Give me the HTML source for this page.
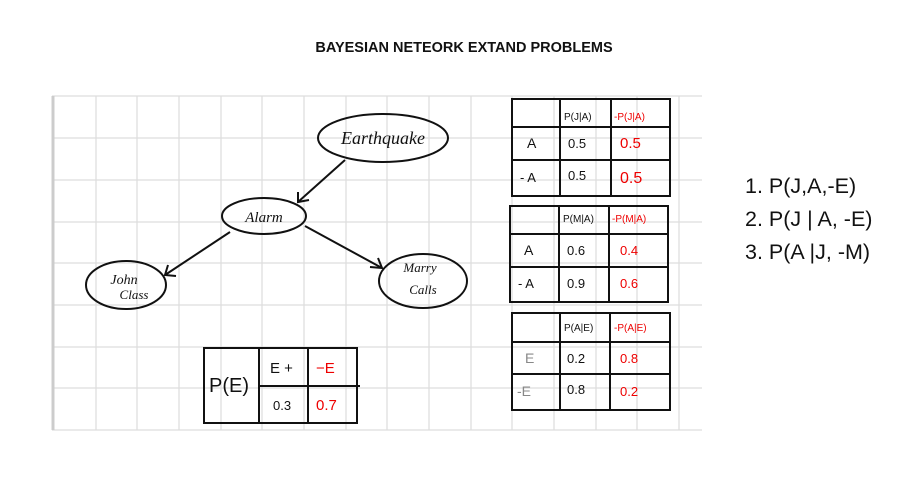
<!DOCTYPE html>
<html><head><style>
body{margin:0;background:#fff;width:924px;height:482px;overflow:hidden;position:relative;font-family:"Liberation Sans",sans-serif}
.t{position:absolute;left:0;width:928px;top:40px;text-align:center;font-weight:bold;font-size:14.5px;color:#111}
.l{position:absolute;left:745px;font-size:21.5px;color:#111}
</style></head><body>
<div class="t">BAYESIAN NETEORK EXTAND PROBLEMS</div>
<svg width="924" height="482" style="position:absolute;left:0;top:0" font-family="Liberation Sans, sans-serif">
<rect x="52" y="96" width="650" height="334" fill="#fff"/>
<g stroke="#ddd" stroke-width="1.2">
<line x1="96" y1="96" x2="96" y2="430"/><line x1="137" y1="96" x2="137" y2="430"/><line x1="179" y1="96" x2="179" y2="430"/><line x1="221" y1="96" x2="221" y2="430"/><line x1="262" y1="96" x2="262" y2="430"/><line x1="304" y1="96" x2="304" y2="430"/><line x1="346" y1="96" x2="346" y2="430"/><line x1="387" y1="96" x2="387" y2="430"/><line x1="429" y1="96" x2="429" y2="430"/><line x1="471" y1="96" x2="471" y2="430"/><line x1="512" y1="96" x2="512" y2="430"/><line x1="554" y1="96" x2="554" y2="430"/><line x1="596" y1="96" x2="596" y2="430"/><line x1="637" y1="96" x2="637" y2="430"/><line x1="679" y1="96" x2="679" y2="430"/>
<line x1="52" y1="138" x2="702" y2="138"/><line x1="52" y1="180" x2="702" y2="180"/><line x1="52" y1="222" x2="702" y2="222"/><line x1="52" y1="263" x2="702" y2="263"/><line x1="52" y1="305" x2="702" y2="305"/><line x1="52" y1="347" x2="702" y2="347"/><line x1="52" y1="388" x2="702" y2="388"/><line x1="52" y1="430" x2="702" y2="430"/>
<line x1="52" y1="96" x2="702" y2="96"/>
</g>
<line x1="53" y1="96" x2="53" y2="430" stroke="#ccc" stroke-width="3"/>
<g fill="none" stroke="#111" stroke-width="2">
<ellipse cx="383" cy="138" rx="65" ry="24"/>
<ellipse cx="264" cy="216" rx="42" ry="18"/>
<ellipse cx="126" cy="285" rx="40" ry="24"/>
<ellipse cx="423" cy="281" rx="44" ry="27"/>
<line x1="345" y1="160" x2="298" y2="202"/><polyline points="298,192 298,202 309,200"/>
<line x1="230" y1="232" x2="165" y2="275"/><polyline points="168,265 165,275 176,276"/>
<line x1="305" y1="226" x2="382" y2="268"/><polyline points="370,267 382,268 378,258"/>
</g>
<g font-family="Liberation Serif, serif" font-style="italic" fill="#111">
<text x="383" y="144" font-size="18" text-anchor="middle">Earthquake</text>
<text x="264" y="222" font-size="15" text-anchor="middle">Alarm</text>
<text x="124" y="284" font-size="14" text-anchor="middle">John</text>
<text x="134" y="299" font-size="13" text-anchor="middle">Class</text>
<text x="420" y="272" font-size="13" text-anchor="middle">Marry</text>
<text x="423" y="294" font-size="13" text-anchor="middle">Calls</text>
</g>
<g fill="none" stroke="#111" stroke-width="2">
<rect x="204" y="348" width="153" height="75"/>
<line x1="259" y1="348" x2="259" y2="423"/><line x1="308" y1="348" x2="308" y2="423"/><line x1="259" y1="386" x2="360" y2="386"/>
<rect x="512" y="99" width="158" height="97"/><line x1="560" y1="99" x2="560" y2="196"/><line x1="611" y1="99" x2="611" y2="196"/><line x1="512" y1="127" x2="670" y2="127"/><line x1="512" y1="160" x2="670" y2="160"/>
<rect x="510" y="206" width="158" height="96"/><line x1="559" y1="206" x2="559" y2="302"/><line x1="609" y1="206" x2="609" y2="302"/><line x1="510" y1="234" x2="668" y2="234"/><line x1="510" y1="267" x2="668" y2="267"/>
<rect x="512" y="313" width="158" height="97"/><line x1="560" y1="313" x2="560" y2="410"/><line x1="610" y1="313" x2="610" y2="410"/><line x1="512" y1="342" x2="670" y2="342"/><line x1="512" y1="374" x2="670" y2="374"/>
</g>
<g font-size="13" fill="#111">
<text x="209" y="392" font-size="20">P(E)</text>
<text x="270" y="373" font-size="15">E +</text><text x="316" y="373" font-size="15" fill="#e00">−E</text>
<text x="273" y="410">0.3</text><text x="316" y="410" font-size="15" fill="#e00">0.7</text>
<text x="564" y="120" font-size="10">P(J|A)</text><text x="614" y="120" font-size="10" fill="#e00">-P(J|A)</text>
<text x="527" y="148" font-size="14">A</text><text x="568" y="148">0.5</text><text x="620" y="148" font-size="15" fill="#e00">0.5</text>
<text x="520" y="182" font-size="13">- A</text><text x="568" y="180">0.5</text><text x="620" y="183" font-size="16" fill="#e00">0.5</text>
<text x="563" y="222" font-size="10">P(M|A)</text><text x="612" y="222" font-size="10" fill="#e00">-P(M|A)</text>
<text x="524" y="255" font-size="14">A</text><text x="567" y="255">0.6</text><text x="620" y="255" fill="#e00">0.4</text>
<text x="518" y="288">- A</text><text x="567" y="288">0.9</text><text x="620" y="288" fill="#e00">0.6</text>
<text x="564" y="331" font-size="10">P(A|E)</text><text x="614" y="331" font-size="10" fill="#e00">-P(A|E)</text>
<text x="525" y="363" font-size="14" fill="#888">E</text><text x="567" y="363">0.2</text><text x="620" y="363" fill="#e00">0.8</text>
<text x="517" y="396" font-size="14" fill="#888">-E</text><text x="567" y="394">0.8</text><text x="620" y="396" fill="#e00">0.2</text>
</g>
</svg>
<div class="l" style="top:174px">1. P(J,A,-E)</div>
<div class="l" style="top:207px">2. P(J | A, -E)</div>
<div class="l" style="top:240px">3. P(A |J, -M)</div>
</body></html>
